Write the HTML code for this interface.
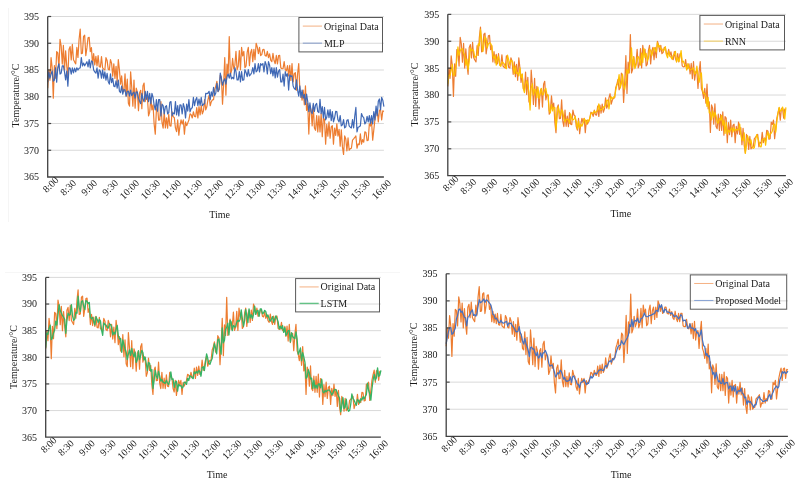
<!DOCTYPE html>
<html><head><meta charset="utf-8"><style>
html,body{margin:0;padding:0;background:#fff;}
svg{display:block;filter:blur(0.5px);}
text{font-family:"Liberation Serif", serif;font-size:10px;fill:#1a1a1a;}
</style></head><body>
<svg width="805" height="492" viewBox="0 0 805 492">
<rect x="0" y="0" width="805" height="492" fill="#fff"/>
<line x1="8.5" y1="8" x2="8.5" y2="222" stroke="#f5f5f5" stroke-width="1"/>
<line x1="5" y1="272.5" x2="400" y2="272.5" stroke="#f6f6f6" stroke-width="1"/>
<line x1="51.20" y1="150.25" x2="383.90" y2="150.25" stroke="#d9d9d9" stroke-width="1"/>
<line x1="51.20" y1="123.50" x2="383.90" y2="123.50" stroke="#d9d9d9" stroke-width="1"/>
<line x1="51.20" y1="96.75" x2="383.90" y2="96.75" stroke="#d9d9d9" stroke-width="1"/>
<line x1="51.20" y1="70.00" x2="383.90" y2="70.00" stroke="#d9d9d9" stroke-width="1"/>
<line x1="51.20" y1="43.25" x2="383.90" y2="43.25" stroke="#d9d9d9" stroke-width="1"/>
<line x1="51.20" y1="16.50" x2="383.90" y2="16.50" stroke="#d9d9d9" stroke-width="1"/>
<text x="39.10" y="180.40" text-anchor="end">365</text>
<text x="39.10" y="153.65" text-anchor="end">370</text>
<text x="39.10" y="126.90" text-anchor="end">375</text>
<text x="39.10" y="100.15" text-anchor="end">380</text>
<text x="39.10" y="73.40" text-anchor="end">385</text>
<text x="39.10" y="46.65" text-anchor="end">390</text>
<text x="39.10" y="19.90" text-anchor="end">395</text>
<polyline fill="none" stroke="#ed7d31" stroke-width="1.2" stroke-linejoin="round" points="47.70,88.14 48.82,69.86 49.94,80.14 51.06,57.66 52.18,67.76 53.30,98.14 54.42,65.62 55.54,78.14 56.67,51.56 57.79,52.88 58.91,67.94 60.03,39.36 61.15,45.75 62.27,64.06 63.39,45.46 64.51,69.94 65.63,50.89 66.75,66.13 67.87,76.14 68.99,49.56 70.11,46.62 71.23,59.84 72.35,44.46 73.48,59.67 74.60,61.84 75.72,63.84 76.84,47.46 77.96,57.38 79.08,39.23 80.20,29.06 81.32,53.74 82.44,53.12 83.56,36.34 84.68,35.26 85.80,55.74 86.92,47.89 88.04,37.84 89.16,37.36 90.29,51.64 91.41,47.65 92.53,63.84 93.65,53.56 94.77,64.84 95.89,56.34 97.01,65.84 98.13,55.66 99.25,66.80 100.37,67.15 101.49,56.66 102.61,67.94 103.73,69.12 104.85,69.94 105.97,57.66 107.10,60.42 108.22,69.17 109.34,69.94 110.46,59.66 111.58,63.20 112.70,76.14 113.82,63.76 114.94,78.41 116.06,66.34 117.18,82.14 118.30,59.66 119.42,69.86 120.54,84.17 121.66,75.96 122.78,90.14 123.91,91.61 125.03,73.86 126.15,96.14 127.27,79.17 128.39,103.24 129.51,106.14 130.63,71.86 131.75,87.23 132.87,106.23 133.99,80.06 135.11,108.14 136.23,88.16 137.35,92.06 138.47,110.64 139.59,92.72 140.72,90.36 141.84,108.74 142.96,86.03 144.08,83.06 145.20,101.64 146.32,96.14 147.44,97.46 148.56,115.84 149.68,112.16 150.80,97.46 151.92,109.84 153.04,104.89 154.16,124.23 155.28,134.14 156.40,109.66 157.53,106.55 158.65,120.17 159.77,119.94 160.89,101.56 162.01,122.48 163.13,128.14 164.25,111.76 165.37,127.86 166.49,117.76 167.61,128.14 168.73,114.27 169.85,125.79 170.97,126.14 172.09,111.76 173.21,116.63 174.34,117.76 175.46,128.14 176.58,131.62 177.70,119.86 178.82,135.14 179.94,126.03 181.06,119.88 182.18,124.04 183.30,119.86 184.42,134.14 185.54,121.86 186.66,125.68 187.78,122.88 188.90,119.94 190.02,113.76 191.15,114.75 192.27,117.94 193.39,111.76 194.51,116.43 195.63,116.79 196.75,107.66 197.87,117.94 198.99,106.66 200.11,114.84 201.23,105.66 202.35,113.84 203.47,110.78 204.59,99.56 205.71,109.84 206.83,106.77 207.96,99.63 209.08,95.46 210.20,105.74 211.32,101.70 212.44,99.82 213.56,99.64 214.68,89.36 215.80,86.07 216.92,81.26 218.04,91.54 219.16,89.14 220.28,75.06 221.40,77.06 222.52,104.14 223.64,84.14 224.77,57.56 225.89,95.14 227.01,64.06 228.13,74.84 229.25,36.56 230.37,74.84 231.49,71.14 232.61,58.46 233.73,68.90 234.85,65.42 235.97,51.36 237.09,69.74 238.21,66.29 239.33,50.51 240.45,69.74 241.58,47.36 242.70,55.94 243.82,51.36 244.94,67.74 246.06,66.02 247.18,52.48 248.30,47.36 249.42,65.74 250.54,52.88 251.66,49.40 252.78,61.64 253.90,49.36 255.02,59.64 256.14,43.26 257.26,46.82 258.39,53.58 259.51,47.36 260.63,55.54 261.75,54.61 262.87,49.49 263.99,49.36 265.11,55.54 266.23,56.22 267.35,51.36 268.47,57.64 269.59,53.82 270.71,60.06 271.83,61.64 272.95,53.46 274.07,60.56 275.20,63.74 276.32,55.46 277.44,63.80 278.56,55.66 279.68,55.46 280.80,67.74 281.92,68.73 283.04,68.59 284.16,61.56 285.28,69.74 286.40,70.76 287.52,65.66 288.64,75.84 289.76,65.36 290.88,80.44 292.01,63.56 293.13,81.94 294.25,73.65 295.37,72.67 296.49,90.14 297.61,73.76 298.73,63.56 299.85,90.14 300.97,93.63 302.09,100.14 303.21,90.06 304.33,104.78 305.45,85.96 306.57,110.44 307.69,103.46 308.82,134.04 309.94,106.52 311.06,109.88 312.18,125.84 313.30,105.46 314.42,128.04 315.54,130.33 316.66,115.66 317.78,131.94 318.90,115.90 320.02,131.94 321.14,113.56 322.26,136.66 323.38,118.10 324.50,119.66 325.63,144.14 326.75,124.27 327.87,136.27 328.99,121.76 330.11,138.14 331.23,126.99 332.35,125.76 333.47,144.14 334.59,128.03 335.71,135.37 336.83,123.76 337.95,136.04 339.07,129.26 340.19,146.14 341.31,129.86 342.44,146.90 343.56,154.34 344.68,135.96 345.80,139.00 346.92,150.82 348.04,137.96 349.16,150.24 350.28,148.60 351.40,148.24 352.52,140.06 353.64,138.92 354.76,137.49 355.88,135.96 357.00,148.24 358.12,143.90 359.25,144.70 360.37,133.86 361.49,144.14 362.61,139.65 363.73,142.14 364.85,131.86 365.97,132.48 367.09,140.63 368.21,140.14 369.33,123.76 370.45,126.01 371.57,121.76 372.69,140.14 373.81,129.94 374.93,119.66 376.06,114.18 377.18,109.56 378.30,121.84 379.42,110.52 380.54,109.56 381.66,119.84 382.78,110.82 383.90,111.48"/>
<polyline fill="none" stroke="#3f68b5" stroke-width="1.2" stroke-linejoin="round" points="47.70,82.14 48.82,71.86 49.94,78.14 51.06,74.06 52.18,71.06 53.30,81.14 54.42,80.03 55.54,67.76 56.67,82.14 57.79,67.37 58.91,63.76 60.03,74.04 61.15,73.05 62.27,65.82 63.39,65.76 64.51,71.94 65.63,79.86 66.75,71.03 67.87,86.14 68.99,67.76 70.11,68.08 71.23,74.04 72.35,67.76 73.48,72.83 74.60,68.15 75.72,71.94 76.84,67.76 77.96,70.06 79.08,68.24 80.20,67.94 81.32,57.66 82.44,65.97 83.56,63.01 84.68,65.84 85.80,63.76 86.92,61.73 88.04,66.88 89.16,59.66 90.29,67.94 91.41,60.96 92.53,61.76 93.65,69.94 94.77,71.84 95.89,73.21 97.01,67.76 98.13,78.14 99.25,69.87 100.37,71.20 101.49,78.14 102.61,69.86 103.73,78.28 104.85,71.86 105.97,80.14 107.10,73.28 108.22,81.44 109.34,84.14 110.46,73.86 111.58,82.64 112.70,78.06 113.82,86.14 114.94,86.73 116.06,80.74 117.18,88.14 118.30,80.06 119.42,91.11 120.54,92.69 121.66,86.06 122.78,94.14 123.91,89.43 125.03,90.06 126.15,96.14 127.27,91.49 128.39,91.16 129.51,96.14 130.63,90.06 131.75,95.52 132.87,93.15 133.99,92.06 135.11,98.14 136.23,91.91 137.35,92.06 138.47,98.14 139.59,101.20 140.72,103.74 141.84,93.46 142.96,99.12 144.08,101.64 145.20,91.36 146.32,99.37 147.44,91.36 148.56,101.64 149.68,93.35 150.80,103.74 151.92,93.46 153.04,97.26 154.16,105.08 155.28,109.84 156.40,99.56 157.53,111.15 158.65,99.65 159.77,99.56 160.89,115.84 162.01,104.16 163.13,105.66 164.25,113.84 165.37,106.62 166.49,105.66 167.61,113.84 168.73,112.90 169.85,102.26 170.97,101.56 172.09,115.84 173.21,112.99 174.34,113.84 175.46,101.56 176.58,114.95 177.70,105.66 178.82,115.84 179.94,104.82 181.06,104.99 182.18,113.84 183.30,103.56 184.42,107.66 185.54,117.94 186.66,104.05 187.78,111.03 188.90,99.56 190.02,111.84 191.15,108.54 192.27,107.74 193.39,97.46 194.51,105.69 195.63,99.91 196.75,97.46 197.87,105.74 198.99,99.09 200.11,105.30 201.23,97.46 202.35,105.74 203.47,104.15 204.59,103.74 205.71,93.46 206.83,93.61 207.96,93.13 209.08,91.36 210.20,99.64 211.32,91.87 212.44,96.25 213.56,87.36 214.68,95.54 215.80,92.99 216.92,83.26 218.04,91.54 219.16,89.14 220.28,73.06 221.40,78.57 222.52,85.14 223.64,81.06 224.77,78.73 225.89,84.14 227.01,76.76 228.13,74.07 229.25,78.14 230.37,73.06 231.49,78.80 232.61,77.33 233.73,78.87 234.85,67.66 235.97,71.66 237.09,79.94 238.21,79.92 239.33,71.57 240.45,81.94 241.58,71.66 242.70,80.29 243.82,79.94 244.94,69.66 246.06,72.41 247.18,76.70 248.30,69.66 249.42,75.84 250.54,74.60 251.66,72.70 252.78,67.66 253.90,73.84 255.02,63.56 256.14,71.84 257.26,70.69 258.39,63.63 259.51,71.84 260.63,63.56 261.75,65.08 262.87,63.55 263.99,71.84 265.11,61.56 266.23,64.72 267.35,73.84 268.47,61.56 269.59,65.29 270.71,73.58 271.83,67.66 272.95,75.84 274.07,67.87 275.20,77.94 276.32,67.66 277.44,77.11 278.56,71.12 279.68,69.66 280.80,81.94 281.92,81.91 283.04,74.03 284.16,86.04 285.28,71.66 286.40,76.13 287.52,73.76 288.64,90.04 289.76,74.88 290.88,76.50 292.01,75.76 293.13,86.04 294.25,88.41 295.37,89.65 296.49,79.86 297.61,90.14 298.73,96.14 299.85,85.96 300.97,97.34 302.09,90.06 303.21,98.14 304.33,94.42 305.45,104.34 306.57,94.06 307.69,101.36 308.82,111.64 309.94,102.97 311.06,111.44 312.18,113.74 313.30,103.46 314.42,111.43 315.54,104.77 316.66,103.46 317.78,111.64 318.90,112.54 320.02,99.36 321.14,113.74 322.26,106.51 323.38,118.01 324.50,107.46 325.63,119.84 326.75,117.25 327.87,109.88 328.99,117.74 330.11,109.56 331.23,120.66 332.35,111.56 333.47,121.84 334.59,117.98 335.71,111.41 336.83,111.56 337.95,119.84 339.07,121.92 340.19,115.66 341.31,125.84 342.44,124.91 343.56,119.66 344.68,127.94 345.80,126.85 346.92,120.35 348.04,119.66 349.16,125.84 350.28,127.18 351.40,127.94 352.52,119.66 353.64,127.99 354.76,116.07 355.88,107.46 357.00,131.94 358.12,127.21 359.25,126.73 360.37,125.84 361.49,113.56 362.61,116.43 363.73,117.66 364.85,123.84 365.97,122.14 367.09,116.28 368.21,121.84 369.33,115.66 370.45,123.54 371.57,115.66 372.69,123.84 373.81,111.56 374.93,119.84 376.06,106.08 377.18,115.74 378.30,101.36 379.42,98.98 380.54,109.64 381.66,97.36 382.78,100.21 383.90,106.69"/>
<polyline fill="none" stroke="#404040" stroke-width="1.3" points="47.70,16.50 47.70,177.00 383.90,177.00"/>
<line x1="47.70" y1="150.25" x2="51.20" y2="150.25" stroke="#404040" stroke-width="1.2"/>
<line x1="47.70" y1="123.50" x2="51.20" y2="123.50" stroke="#404040" stroke-width="1.2"/>
<line x1="47.70" y1="96.75" x2="51.20" y2="96.75" stroke="#404040" stroke-width="1.2"/>
<line x1="47.70" y1="70.00" x2="51.20" y2="70.00" stroke="#404040" stroke-width="1.2"/>
<line x1="47.70" y1="43.25" x2="51.20" y2="43.25" stroke="#404040" stroke-width="1.2"/>
<line x1="47.70" y1="16.50" x2="51.20" y2="16.50" stroke="#404040" stroke-width="1.2"/>
<text transform="translate(59.20,180.80) rotate(-45)" text-anchor="end">8:00</text>
<text transform="translate(76.71,183.80) rotate(-45)" text-anchor="end">8:30</text>
<text transform="translate(97.72,183.80) rotate(-45)" text-anchor="end">9:00</text>
<text transform="translate(118.74,183.80) rotate(-45)" text-anchor="end">9:30</text>
<text transform="translate(139.75,183.80) rotate(-45)" text-anchor="end">10:00</text>
<text transform="translate(160.76,183.80) rotate(-45)" text-anchor="end">10:30</text>
<text transform="translate(181.77,183.80) rotate(-45)" text-anchor="end">11:00</text>
<text transform="translate(202.79,183.80) rotate(-45)" text-anchor="end">11:30</text>
<text transform="translate(223.80,183.80) rotate(-45)" text-anchor="end">12:00</text>
<text transform="translate(244.81,183.80) rotate(-45)" text-anchor="end">12:30</text>
<text transform="translate(265.82,183.80) rotate(-45)" text-anchor="end">13:00</text>
<text transform="translate(286.84,183.80) rotate(-45)" text-anchor="end">13:30</text>
<text transform="translate(307.85,183.80) rotate(-45)" text-anchor="end">14:00</text>
<text transform="translate(328.86,183.80) rotate(-45)" text-anchor="end">14:30</text>
<text transform="translate(349.88,183.80) rotate(-45)" text-anchor="end">15:00</text>
<text transform="translate(370.89,183.80) rotate(-45)" text-anchor="end">15:30</text>
<text transform="translate(391.90,183.80) rotate(-45)" text-anchor="end">16:00</text>
<rect x="298.90" y="17.50" width="83.60" height="34.40" fill="none" stroke="#595959" stroke-width="1"/>
<line x1="302.80" y1="26.10" x2="322.00" y2="26.10" stroke="#ed7d31" stroke-width="1" stroke-opacity="0.6"/>
<line x1="302.80" y1="43.13" x2="322.00" y2="43.13" stroke="#3f68b5" stroke-width="1" stroke-opacity="0.6"/>
<text x="323.90" y="29.60">Original Data</text>
<text x="323.90" y="46.63">MLP</text>
<text transform="translate(18.80,95.50) rotate(-90)" text-anchor="middle">Temperature/°C</text>
<text x="219.60" y="218.00" text-anchor="middle">Time</text>
<line x1="451.30" y1="148.81" x2="785.90" y2="148.81" stroke="#d9d9d9" stroke-width="1"/>
<line x1="451.30" y1="121.92" x2="785.90" y2="121.92" stroke="#d9d9d9" stroke-width="1"/>
<line x1="451.30" y1="95.02" x2="785.90" y2="95.02" stroke="#d9d9d9" stroke-width="1"/>
<line x1="451.30" y1="68.13" x2="785.90" y2="68.13" stroke="#d9d9d9" stroke-width="1"/>
<line x1="451.30" y1="41.24" x2="785.90" y2="41.24" stroke="#d9d9d9" stroke-width="1"/>
<line x1="451.30" y1="14.35" x2="785.90" y2="14.35" stroke="#d9d9d9" stroke-width="1"/>
<text x="439.20" y="179.10" text-anchor="end">365</text>
<text x="439.20" y="152.21" text-anchor="end">370</text>
<text x="439.20" y="125.32" text-anchor="end">375</text>
<text x="439.20" y="98.42" text-anchor="end">380</text>
<text x="439.20" y="71.53" text-anchor="end">385</text>
<text x="439.20" y="44.64" text-anchor="end">390</text>
<text x="439.20" y="17.75" text-anchor="end">395</text>
<polyline fill="none" stroke="#ed7d31" stroke-width="1.2" stroke-linejoin="round" points="447.80,86.37 448.93,68.00 450.05,78.32 451.18,55.73 452.31,65.88 453.44,96.42 454.56,63.73 455.69,76.31 456.82,49.60 457.94,50.93 459.07,66.06 460.20,37.33 461.32,43.76 462.45,62.17 463.58,43.47 464.70,68.07 465.83,48.92 466.96,64.24 468.09,74.30 469.21,47.59 470.34,44.63 471.47,57.92 472.59,42.46 473.72,57.75 474.85,59.93 475.98,61.94 477.10,45.48 478.23,55.45 479.36,37.20 480.48,26.98 481.61,51.78 482.74,51.17 483.86,34.29 484.99,33.21 486.12,53.79 487.25,45.90 488.37,35.80 489.50,35.32 490.63,49.67 491.75,45.66 492.88,61.94 494.01,51.61 495.13,62.95 496.26,54.40 497.39,63.95 498.51,53.72 499.64,64.91 500.77,65.27 501.90,54.73 503.02,66.06 504.15,67.25 505.28,68.07 506.40,55.73 507.53,58.51 508.66,67.30 509.79,68.07 510.91,57.74 512.04,61.30 513.17,74.30 514.29,61.86 515.42,76.59 516.55,64.45 517.67,80.33 518.80,57.74 519.93,67.99 521.06,82.37 522.18,74.13 523.31,88.38 524.44,89.85 525.56,72.02 526.69,94.41 527.82,77.35 528.94,101.54 530.07,104.46 531.20,70.01 532.33,85.46 533.45,104.56 534.58,78.25 535.71,106.47 536.83,86.39 537.96,90.31 539.09,108.99 540.21,90.97 541.34,88.60 542.47,107.08 543.60,84.25 544.72,81.27 545.85,99.94 546.98,94.41 548.10,95.74 549.23,114.21 550.36,110.52 551.48,95.74 552.61,108.18 553.74,103.21 554.87,122.66 555.99,132.61 557.12,108.01 558.25,104.88 559.37,118.57 560.50,118.33 561.63,99.86 562.75,120.89 563.88,126.58 565.01,110.12 566.13,126.30 567.26,116.15 568.39,126.58 569.52,112.64 570.64,124.22 571.77,124.57 572.90,110.12 574.02,115.01 575.15,116.15 576.28,126.58 577.40,130.08 578.53,118.26 579.66,133.62 580.79,124.46 581.91,118.27 583.04,122.46 584.17,118.26 585.29,132.61 586.42,120.27 587.55,124.11 588.67,121.29 589.80,118.33 590.93,112.13 592.06,113.12 593.18,116.32 594.31,110.12 595.44,114.80 596.56,115.17 597.69,106.00 598.82,116.32 599.94,104.99 601.07,113.21 602.20,103.99 603.33,112.20 604.45,109.13 605.58,97.85 606.71,108.18 607.83,105.10 608.96,97.92 610.09,93.73 611.22,104.06 612.34,100.00 613.47,98.11 614.60,97.93 615.72,87.60 616.85,84.29 617.98,79.46 619.10,89.78 620.23,87.37 621.36,73.22 622.49,75.23 623.61,102.45 624.74,82.35 625.87,55.63 626.99,93.40 628.12,62.16 629.25,73.00 630.37,34.52 631.50,73.00 632.63,69.28 633.75,56.54 634.88,67.03 636.01,63.52 637.14,49.40 638.26,67.87 639.39,64.40 640.52,48.54 641.64,67.87 642.77,45.38 643.90,53.99 645.02,49.40 646.15,65.86 647.28,64.14 648.41,50.52 649.53,45.38 650.66,63.85 651.79,50.92 652.91,47.43 654.04,59.73 655.17,47.39 656.29,57.72 657.42,41.25 658.55,44.83 659.68,51.63 660.80,45.38 661.93,53.59 663.06,52.66 664.18,47.52 665.31,47.39 666.44,53.59 667.57,54.28 668.69,49.40 669.82,55.70 670.95,51.87 672.07,58.14 673.20,59.73 674.33,51.51 675.45,58.64 676.58,61.84 677.71,53.52 678.84,61.90 679.96,53.72 681.09,53.52 682.22,65.86 683.34,66.86 684.47,66.71 685.60,59.65 686.72,67.87 687.85,68.90 688.98,63.77 690.11,74.00 691.23,63.47 692.36,78.63 693.49,61.66 694.61,80.13 695.74,71.80 696.87,70.82 697.99,88.38 699.12,71.92 700.25,61.66 701.38,88.38 702.50,91.89 703.63,98.43 704.76,88.30 705.88,103.10 707.01,84.18 708.14,108.78 709.26,101.77 710.39,132.51 711.52,104.85 712.64,108.23 713.77,124.27 714.90,103.78 716.03,126.48 717.15,128.78 718.28,114.04 719.41,130.40 720.53,114.27 721.66,130.40 722.79,111.93 723.91,135.15 725.04,116.49 726.17,118.06 727.30,142.66 728.42,122.69 729.55,134.76 730.68,120.17 731.80,136.63 732.93,125.43 734.06,124.19 735.18,142.66 736.31,126.47 737.44,133.85 738.57,122.18 739.69,134.52 740.82,127.71 741.95,144.67 743.07,128.31 744.20,145.44 745.33,152.92 746.45,134.45 747.58,137.50 748.71,149.39 749.84,136.46 750.96,148.80 752.09,147.15 753.22,146.78 754.34,138.57 755.47,137.42 756.60,135.98 757.72,134.45 758.85,146.78 759.98,142.43 761.11,143.23 762.23,132.33 763.36,142.66 764.49,138.15 765.61,140.65 766.74,130.32 767.87,130.94 768.99,139.14 770.12,138.64 771.25,122.18 772.38,124.44 773.50,120.17 774.63,138.64 775.76,128.39 776.88,118.06 778.01,112.55 779.14,107.91 780.26,120.24 781.39,108.87 782.52,107.91 783.65,118.23 784.77,109.17 785.90,109.84"/>
<polyline fill="none" stroke="#ffc000" stroke-width="1.2" stroke-linejoin="round" points="447.80,84.27 448.93,75.28 450.05,75.44 451.18,70.28 452.31,64.31 453.44,75.73 454.56,74.61 455.69,67.86 456.82,60.06 457.94,46.83 459.07,55.34 460.20,50.95 461.32,48.74 462.45,48.79 463.58,52.64 464.70,55.27 465.83,65.27 466.96,59.17 468.09,69.83 469.21,61.38 470.34,47.94 471.47,50.78 472.59,49.63 473.72,51.19 474.85,57.61 475.98,56.29 477.10,55.03 478.23,43.76 479.36,45.70 480.48,29.69 481.61,38.80 482.74,51.55 483.86,45.64 484.99,36.75 486.12,38.43 487.25,47.90 488.37,44.15 489.50,42.66 490.63,43.55 491.75,45.81 492.88,55.73 494.01,58.63 495.13,55.20 496.26,65.17 497.39,58.57 498.51,56.23 499.64,64.82 500.77,66.33 501.90,62.01 503.02,62.59 504.15,63.76 505.28,66.89 506.40,68.64 507.53,55.10 508.66,59.71 509.79,64.37 510.91,60.14 512.04,60.85 513.17,65.92 514.29,73.76 515.42,66.00 516.55,73.47 517.67,72.58 518.80,76.01 519.93,67.87 521.06,77.76 522.18,74.09 523.31,88.65 524.44,92.66 525.56,83.86 526.69,80.53 527.82,84.51 528.94,92.23 530.07,110.07 531.20,88.14 532.33,83.72 533.45,94.91 534.58,89.12 535.71,89.91 536.83,97.69 537.96,87.12 539.09,98.31 540.21,93.94 541.34,88.45 542.47,94.81 543.60,94.21 544.72,90.02 545.85,88.29 546.98,95.03 548.10,94.94 549.23,110.72 550.36,112.92 551.48,104.57 552.61,110.95 553.74,107.38 554.87,107.54 555.99,129.56 557.12,117.24 558.25,106.54 559.37,111.55 560.50,116.18 561.63,109.81 562.75,111.18 563.88,118.35 565.01,122.13 566.13,119.35 567.26,119.01 568.39,120.06 569.52,123.42 570.64,113.94 571.77,118.85 572.90,120.04 574.02,119.13 575.15,116.38 576.28,121.60 577.40,128.94 578.53,121.13 579.66,127.96 580.79,124.39 581.91,126.31 583.04,123.28 584.17,118.69 585.29,120.14 586.42,124.10 587.55,119.92 588.67,121.67 589.80,118.11 590.93,113.58 592.06,112.93 593.18,113.14 594.31,111.04 595.44,112.50 596.56,111.54 597.69,109.62 598.82,103.86 599.94,110.35 601.07,109.35 602.20,109.81 603.33,106.71 604.45,107.47 605.58,104.62 606.71,100.43 607.83,100.02 608.96,108.94 610.09,100.54 611.22,96.78 612.34,98.98 613.47,96.77 614.60,97.34 615.72,90.32 616.85,85.16 617.98,82.86 619.10,74.61 620.23,87.93 621.36,83.73 622.49,74.05 623.61,86.09 624.74,89.54 625.87,80.93 626.99,69.63 628.12,73.27 629.25,68.93 630.37,59.54 631.50,47.74 632.63,67.25 633.75,57.12 634.88,68.67 636.01,65.47 637.14,57.81 638.26,56.61 639.39,60.10 640.52,65.08 641.64,53.15 642.77,62.54 643.90,48.31 645.02,57.62 646.15,53.43 647.28,61.10 648.41,58.33 649.53,49.16 650.66,50.35 651.79,55.81 652.91,51.02 654.04,47.58 655.17,49.41 656.29,52.13 657.42,42.58 658.55,46.89 659.68,45.61 660.80,49.01 661.93,48.76 663.06,51.14 664.18,50.13 665.31,46.60 666.44,54.86 667.57,57.79 668.69,51.36 669.82,56.17 670.95,57.11 672.07,59.15 673.20,55.48 674.33,54.09 675.45,51.40 676.58,61.86 677.71,57.66 678.84,61.54 679.96,57.12 681.09,50.60 682.22,62.05 683.34,61.20 684.47,64.40 685.60,65.47 686.72,70.11 687.85,63.50 688.98,68.19 690.11,69.88 691.23,69.51 692.36,68.71 693.49,67.83 694.61,73.96 695.74,73.61 696.87,66.03 697.99,75.04 699.12,82.34 700.25,74.61 701.38,72.89 702.50,89.74 703.63,93.68 704.76,93.47 705.88,96.40 707.01,106.49 708.14,97.47 709.26,112.88 710.39,112.13 711.52,119.97 712.64,110.89 713.77,117.28 714.90,112.28 716.03,115.69 717.15,122.47 718.28,123.14 719.41,118.41 720.53,120.05 721.66,115.34 722.79,125.15 723.91,120.04 725.04,133.34 726.17,122.39 727.30,134.12 728.42,130.15 729.55,132.00 730.68,129.50 731.80,127.87 732.93,132.07 734.06,127.62 735.18,130.75 736.31,129.48 737.44,129.61 738.57,129.81 739.69,123.97 740.82,134.09 741.95,139.94 743.07,140.65 744.20,132.90 745.33,153.46 746.45,145.76 747.58,135.67 748.71,140.34 749.84,143.51 750.96,139.72 752.09,146.72 753.22,148.49 754.34,147.55 755.47,140.44 756.60,134.49 757.72,137.69 758.85,141.54 759.98,146.61 761.11,146.88 762.23,140.05 763.36,139.24 764.49,138.20 765.61,145.28 766.74,136.12 767.87,131.81 768.99,138.65 770.12,133.48 771.25,133.15 772.38,130.94 773.50,124.77 774.63,124.10 775.76,132.30 776.88,120.98 778.01,113.54 779.14,107.44 780.26,111.29 781.39,110.43 782.52,107.00 783.65,111.08 784.77,119.26 785.90,107.38"/>
<polyline fill="none" stroke="#404040" stroke-width="1.3" points="447.80,14.35 447.80,175.70 785.90,175.70"/>
<line x1="447.80" y1="148.81" x2="451.30" y2="148.81" stroke="#404040" stroke-width="1.2"/>
<line x1="447.80" y1="121.92" x2="451.30" y2="121.92" stroke="#404040" stroke-width="1.2"/>
<line x1="447.80" y1="95.02" x2="451.30" y2="95.02" stroke="#404040" stroke-width="1.2"/>
<line x1="447.80" y1="68.13" x2="451.30" y2="68.13" stroke="#404040" stroke-width="1.2"/>
<line x1="447.80" y1="41.24" x2="451.30" y2="41.24" stroke="#404040" stroke-width="1.2"/>
<line x1="447.80" y1="14.35" x2="451.30" y2="14.35" stroke="#404040" stroke-width="1.2"/>
<text transform="translate(459.30,179.50) rotate(-45)" text-anchor="end">8:00</text>
<text transform="translate(476.93,182.50) rotate(-45)" text-anchor="end">8:30</text>
<text transform="translate(498.06,182.50) rotate(-45)" text-anchor="end">9:00</text>
<text transform="translate(519.19,182.50) rotate(-45)" text-anchor="end">9:30</text>
<text transform="translate(540.33,182.50) rotate(-45)" text-anchor="end">10:00</text>
<text transform="translate(561.46,182.50) rotate(-45)" text-anchor="end">10:30</text>
<text transform="translate(582.59,182.50) rotate(-45)" text-anchor="end">11:00</text>
<text transform="translate(603.72,182.50) rotate(-45)" text-anchor="end">11:30</text>
<text transform="translate(624.85,182.50) rotate(-45)" text-anchor="end">12:00</text>
<text transform="translate(645.98,182.50) rotate(-45)" text-anchor="end">12:30</text>
<text transform="translate(667.11,182.50) rotate(-45)" text-anchor="end">13:00</text>
<text transform="translate(688.24,182.50) rotate(-45)" text-anchor="end">13:30</text>
<text transform="translate(709.38,182.50) rotate(-45)" text-anchor="end">14:00</text>
<text transform="translate(730.51,182.50) rotate(-45)" text-anchor="end">14:30</text>
<text transform="translate(751.64,182.50) rotate(-45)" text-anchor="end">15:00</text>
<text transform="translate(772.77,182.50) rotate(-45)" text-anchor="end">15:30</text>
<text transform="translate(793.90,182.50) rotate(-45)" text-anchor="end">16:00</text>
<rect x="699.90" y="15.40" width="84.60" height="34.50" fill="none" stroke="#595959" stroke-width="1"/>
<line x1="703.80" y1="24.02" x2="723.00" y2="24.02" stroke="#ed7d31" stroke-width="1" stroke-opacity="0.6"/>
<line x1="703.80" y1="41.10" x2="723.00" y2="41.10" stroke="#ffc000" stroke-width="1" stroke-opacity="0.6"/>
<text x="724.90" y="27.52">Original Data</text>
<text x="724.90" y="44.60">RNN</text>
<text transform="translate(418.30,94.60) rotate(-90)" text-anchor="middle">Temperature/°C</text>
<text x="620.80" y="217.00" text-anchor="middle">Time</text>
<line x1="49.20" y1="410.57" x2="380.90" y2="410.57" stroke="#d9d9d9" stroke-width="1"/>
<line x1="49.20" y1="383.93" x2="380.90" y2="383.93" stroke="#d9d9d9" stroke-width="1"/>
<line x1="49.20" y1="357.30" x2="380.90" y2="357.30" stroke="#d9d9d9" stroke-width="1"/>
<line x1="49.20" y1="330.67" x2="380.90" y2="330.67" stroke="#d9d9d9" stroke-width="1"/>
<line x1="49.20" y1="304.03" x2="380.90" y2="304.03" stroke="#d9d9d9" stroke-width="1"/>
<line x1="49.20" y1="277.40" x2="380.90" y2="277.40" stroke="#d9d9d9" stroke-width="1"/>
<text x="37.10" y="440.60" text-anchor="end">365</text>
<text x="37.10" y="413.97" text-anchor="end">370</text>
<text x="37.10" y="387.33" text-anchor="end">375</text>
<text x="37.10" y="360.70" text-anchor="end">380</text>
<text x="37.10" y="334.07" text-anchor="end">385</text>
<text x="37.10" y="307.43" text-anchor="end">390</text>
<text x="37.10" y="280.80" text-anchor="end">395</text>
<polyline fill="none" stroke="#ed7d31" stroke-width="1.2" stroke-linejoin="round" points="45.70,348.72 46.82,330.53 47.93,340.76 49.05,318.38 50.17,328.44 51.29,358.68 52.40,326.31 53.52,338.77 54.64,312.31 55.76,313.62 56.87,328.61 57.99,300.16 59.11,306.52 60.23,324.76 61.34,306.24 62.46,330.60 63.58,311.64 64.69,326.81 65.81,336.78 66.93,310.32 68.05,307.39 69.16,320.55 70.28,305.24 71.40,320.38 72.52,322.54 73.63,324.53 74.75,308.23 75.87,318.10 76.99,300.03 78.10,289.91 79.22,314.47 80.34,313.86 81.45,297.15 82.57,296.08 83.69,316.47 84.81,308.65 85.92,298.65 87.04,298.17 88.16,312.38 89.28,308.41 90.39,324.53 91.51,314.30 92.63,325.53 93.75,317.07 94.86,326.52 95.98,316.39 97.10,327.48 98.21,327.83 99.33,317.39 100.45,328.61 101.57,329.79 102.68,330.60 103.80,318.38 104.92,321.13 106.04,329.84 107.15,330.60 108.27,320.37 109.39,323.90 110.51,336.78 111.62,324.46 112.74,339.04 113.86,327.02 114.97,342.75 116.09,320.37 117.21,330.53 118.33,344.77 119.44,336.60 120.56,350.72 121.68,352.18 122.80,334.51 123.91,356.69 125.03,339.79 126.15,363.76 127.27,366.65 128.38,332.52 129.50,347.82 130.62,366.74 131.73,340.69 132.85,368.64 133.97,348.75 135.09,352.63 136.20,371.13 137.32,353.29 138.44,350.94 139.56,369.23 140.67,346.63 141.79,343.67 142.91,362.17 144.03,356.70 145.14,358.01 146.26,376.30 147.38,372.65 148.49,358.01 149.61,370.33 150.73,365.41 151.85,384.66 152.96,394.52 154.08,370.16 155.20,367.06 156.32,380.62 157.43,380.39 158.55,362.09 159.67,382.91 160.79,388.55 161.90,372.25 163.02,388.28 164.14,378.22 165.25,388.55 166.37,374.74 167.49,386.22 168.61,386.56 169.72,372.25 170.84,377.09 171.96,378.22 173.08,388.55 174.19,392.02 175.31,380.31 176.43,395.52 177.55,386.46 178.66,380.33 179.78,384.47 180.90,380.31 182.01,394.52 183.13,382.30 184.25,386.11 185.37,383.31 186.48,380.39 187.60,374.24 188.72,375.22 189.84,378.39 190.95,372.25 192.07,376.89 193.19,377.25 194.31,368.17 195.42,378.39 196.54,367.17 197.66,375.31 198.77,366.17 199.89,374.31 201.01,371.27 202.13,360.10 203.24,370.33 204.36,367.28 205.48,360.16 206.60,356.02 207.71,366.25 208.83,362.22 209.95,360.36 211.07,360.17 212.18,349.95 213.30,346.67 214.42,341.88 215.53,352.11 216.65,349.72 217.77,335.71 218.89,337.70 220.00,364.65 221.12,344.74 222.24,318.28 223.36,355.69 224.47,324.76 225.59,335.48 226.71,297.38 227.83,335.48 228.94,331.80 230.06,319.18 231.18,329.57 232.29,326.10 233.41,312.11 234.53,330.40 235.65,326.97 236.76,311.26 237.88,330.40 239.00,308.13 240.12,316.66 241.23,312.11 242.35,328.41 243.47,326.71 244.59,313.22 245.70,308.13 246.82,326.42 247.94,313.62 249.05,310.16 250.17,322.34 251.29,310.12 252.41,320.35 253.52,304.05 254.64,307.59 255.76,314.32 256.88,308.13 257.99,316.27 259.11,315.34 260.23,310.25 261.35,310.12 262.46,316.27 263.58,316.95 264.70,312.11 265.81,318.36 266.93,314.56 268.05,320.77 269.17,322.34 270.28,314.20 271.40,321.26 272.52,324.43 273.64,316.19 274.75,324.50 275.87,316.39 276.99,316.19 278.11,328.41 279.22,329.40 280.34,329.26 281.46,322.27 282.57,330.40 283.69,331.43 284.81,326.35 285.93,336.48 287.04,326.05 288.16,341.06 289.28,324.26 290.40,342.55 291.51,334.30 292.63,333.33 293.75,350.72 294.87,334.41 295.98,324.26 297.10,350.72 298.22,354.20 299.33,360.67 300.45,350.64 301.57,365.30 302.69,346.56 303.80,370.93 304.92,363.98 306.04,394.42 307.16,367.03 308.27,370.38 309.39,386.26 310.51,365.97 311.63,388.45 312.74,390.73 313.86,376.13 314.98,392.33 316.09,376.36 317.21,392.33 318.33,374.04 319.45,397.04 320.56,378.56 321.68,380.11 322.80,404.48 323.92,384.70 325.03,396.65 326.15,382.20 327.27,398.51 328.39,387.41 329.50,386.19 330.62,404.48 331.74,388.44 332.85,395.75 333.97,384.20 335.09,396.42 336.21,389.67 337.32,406.47 338.44,390.27 339.56,407.23 340.68,414.64 341.79,396.34 342.91,399.36 344.03,411.14 345.15,398.33 346.26,410.55 347.38,408.92 348.50,408.56 349.61,400.42 350.73,399.29 351.85,397.86 352.97,396.34 354.08,408.56 355.20,404.25 356.32,405.04 357.44,394.25 358.55,404.48 359.67,400.01 360.79,402.49 361.91,392.26 363.02,392.87 364.14,400.99 365.26,400.50 366.37,384.20 367.49,386.44 368.61,382.20 369.73,400.50 370.84,390.34 371.96,380.11 373.08,374.65 374.20,370.06 375.31,382.28 376.43,371.01 377.55,370.06 378.67,380.29 379.78,371.30 380.90,371.97"/>
<polyline fill="none" stroke="#36b363" stroke-width="1.3" stroke-linejoin="round" points="45.70,347.73 46.82,332.88 47.93,334.25 49.05,328.36 50.17,325.17 51.29,339.67 52.40,337.87 53.52,333.10 54.64,329.97 55.76,321.20 56.87,325.08 57.99,314.99 59.11,304.68 60.23,310.63 61.34,313.07 62.46,315.72 63.58,317.23 64.69,319.24 65.81,333.31 66.93,320.29 68.05,313.21 69.16,315.31 70.28,314.43 71.40,304.58 72.52,315.86 73.63,320.40 74.75,319.12 75.87,312.39 76.99,313.19 78.10,296.12 79.22,307.43 80.34,311.70 81.45,301.80 82.57,300.65 83.69,306.13 84.81,309.66 85.92,300.65 87.04,301.25 88.16,303.61 89.28,302.56 90.39,317.44 91.51,318.71 92.63,317.31 93.75,321.62 94.86,325.12 95.98,316.65 97.10,319.17 98.21,322.65 99.33,319.46 100.45,320.84 101.57,330.09 102.68,335.25 103.80,322.91 104.92,324.46 106.04,325.16 107.15,327.35 108.27,328.12 109.39,323.77 110.51,324.44 111.62,326.93 112.74,334.89 113.86,332.25 114.97,334.21 116.09,329.32 117.21,325.29 118.33,335.87 119.44,338.99 120.56,338.41 121.68,352.09 122.80,339.96 123.91,344.51 125.03,348.77 126.15,352.22 127.27,359.70 128.38,354.14 129.50,349.83 130.62,355.30 131.73,348.39 132.85,353.61 133.97,356.82 135.09,352.15 136.20,362.38 137.32,359.67 138.44,350.75 139.56,359.55 140.67,355.32 141.79,350.42 142.91,352.56 144.03,359.98 145.14,357.14 146.26,363.50 147.38,370.58 148.49,362.45 149.61,363.18 150.73,371.19 151.85,369.62 152.96,388.52 154.08,380.61 155.20,370.37 156.32,375.91 157.43,378.36 158.55,371.37 159.67,375.87 160.79,381.07 161.90,379.39 163.02,382.23 164.14,382.63 165.25,383.35 166.37,380.27 167.49,383.00 168.61,384.66 169.72,380.68 170.84,371.93 171.96,379.48 173.08,378.89 174.19,387.46 175.31,382.05 176.43,381.23 177.55,391.18 178.66,384.23 179.78,385.92 180.90,385.37 182.01,388.17 183.13,386.75 184.25,382.14 185.37,382.48 186.48,384.39 187.60,378.29 188.72,380.50 189.84,375.74 190.95,376.24 192.07,377.80 193.19,378.68 194.31,371.81 195.42,373.47 196.54,371.31 197.66,373.15 198.77,370.43 199.89,371.60 201.01,376.24 202.13,367.43 203.24,366.71 204.36,370.62 205.48,362.32 206.60,353.92 207.71,358.28 208.83,363.48 209.95,364.33 211.07,361.02 212.18,358.43 213.30,350.54 214.42,343.68 215.53,348.25 216.65,353.76 217.77,339.92 218.89,338.90 220.00,346.37 221.12,354.21 222.24,327.79 223.36,342.83 224.47,340.35 225.59,329.90 226.71,326.88 227.83,323.24 228.94,334.93 230.06,320.28 231.18,321.89 232.29,330.64 233.41,325.45 234.53,326.76 235.65,326.95 236.76,322.09 237.88,320.33 239.00,321.47 240.12,319.20 241.23,309.95 242.35,318.55 243.47,326.24 244.59,320.70 245.70,309.59 246.82,316.21 247.94,322.56 249.05,308.78 250.17,317.89 251.29,314.77 252.41,318.54 253.52,314.44 254.64,306.15 255.76,314.33 256.88,310.90 257.99,310.34 259.11,316.38 260.23,308.89 261.35,309.02 262.46,313.72 263.58,312.87 264.70,310.33 265.81,311.71 266.93,316.51 268.05,315.09 269.17,319.12 270.28,321.17 271.40,319.00 272.52,316.57 273.64,322.24 274.75,318.94 275.87,315.89 276.99,318.44 278.11,321.65 279.22,328.85 280.34,326.05 281.46,328.84 282.57,325.68 283.69,332.33 284.81,327.65 285.93,335.35 287.04,333.83 288.16,330.59 289.28,330.44 290.40,341.89 291.51,332.65 292.63,336.51 293.75,337.89 294.87,338.57 295.98,331.91 297.10,338.95 298.22,354.32 299.33,351.78 300.45,347.98 301.57,360.78 302.69,352.73 303.80,356.77 304.92,362.10 306.04,378.27 307.16,376.80 308.27,369.65 309.39,373.03 310.51,378.91 311.63,378.10 312.74,388.45 313.86,380.45 314.98,388.01 316.09,385.08 317.21,388.34 318.33,383.80 319.45,383.82 320.56,387.83 321.68,379.26 322.80,391.69 323.92,392.79 325.03,390.50 326.15,391.92 327.27,390.29 328.39,390.16 329.50,390.16 330.62,392.27 331.74,395.00 332.85,393.42 333.97,390.24 335.09,389.36 336.21,390.32 337.32,392.85 338.44,395.97 339.56,397.95 340.68,411.77 341.79,406.11 342.91,397.60 344.03,408.46 345.15,407.02 346.26,399.11 347.38,408.58 348.50,411.34 349.61,410.56 350.73,404.25 351.85,393.96 352.97,398.39 354.08,400.17 355.20,402.85 356.32,405.22 357.44,399.47 358.55,400.68 359.67,402.96 360.79,398.56 361.91,400.13 363.02,396.70 364.14,399.01 365.26,396.49 366.37,394.34 367.49,383.21 368.61,390.26 369.73,393.86 370.84,400.20 371.96,388.71 373.08,380.08 374.20,374.31 375.31,380.04 376.43,377.74 377.55,367.86 378.67,376.40 379.78,375.30 380.90,370.44"/>
<polyline fill="none" stroke="#404040" stroke-width="1.3" points="45.70,277.40 45.70,437.20 380.90,437.20"/>
<line x1="45.70" y1="410.57" x2="49.20" y2="410.57" stroke="#404040" stroke-width="1.2"/>
<line x1="45.70" y1="383.93" x2="49.20" y2="383.93" stroke="#404040" stroke-width="1.2"/>
<line x1="45.70" y1="357.30" x2="49.20" y2="357.30" stroke="#404040" stroke-width="1.2"/>
<line x1="45.70" y1="330.67" x2="49.20" y2="330.67" stroke="#404040" stroke-width="1.2"/>
<line x1="45.70" y1="304.03" x2="49.20" y2="304.03" stroke="#404040" stroke-width="1.2"/>
<line x1="45.70" y1="277.40" x2="49.20" y2="277.40" stroke="#404040" stroke-width="1.2"/>
<text transform="translate(57.20,441.00) rotate(-45)" text-anchor="end">8:00</text>
<text transform="translate(74.65,444.00) rotate(-45)" text-anchor="end">8:30</text>
<text transform="translate(95.60,444.00) rotate(-45)" text-anchor="end">9:00</text>
<text transform="translate(116.55,444.00) rotate(-45)" text-anchor="end">9:30</text>
<text transform="translate(137.50,444.00) rotate(-45)" text-anchor="end">10:00</text>
<text transform="translate(158.45,444.00) rotate(-45)" text-anchor="end">10:30</text>
<text transform="translate(179.40,444.00) rotate(-45)" text-anchor="end">11:00</text>
<text transform="translate(200.35,444.00) rotate(-45)" text-anchor="end">11:30</text>
<text transform="translate(221.30,444.00) rotate(-45)" text-anchor="end">12:00</text>
<text transform="translate(242.25,444.00) rotate(-45)" text-anchor="end">12:30</text>
<text transform="translate(263.20,444.00) rotate(-45)" text-anchor="end">13:00</text>
<text transform="translate(284.15,444.00) rotate(-45)" text-anchor="end">13:30</text>
<text transform="translate(305.10,444.00) rotate(-45)" text-anchor="end">14:00</text>
<text transform="translate(326.05,444.00) rotate(-45)" text-anchor="end">14:30</text>
<text transform="translate(347.00,444.00) rotate(-45)" text-anchor="end">15:00</text>
<text transform="translate(367.95,444.00) rotate(-45)" text-anchor="end">15:30</text>
<text transform="translate(388.90,444.00) rotate(-45)" text-anchor="end">16:00</text>
<rect x="295.60" y="278.60" width="83.90" height="33.30" fill="none" stroke="#595959" stroke-width="1"/>
<line x1="299.50" y1="286.93" x2="318.70" y2="286.93" stroke="#ed7d31" stroke-width="1" stroke-opacity="0.6"/>
<line x1="299.50" y1="303.41" x2="318.70" y2="303.41" stroke="#36b363" stroke-width="1.4" stroke-opacity="0.75"/>
<text x="320.60" y="290.43">Original Data</text>
<text x="320.60" y="306.91">LSTM</text>
<text transform="translate(16.70,357.00) rotate(-90)" text-anchor="middle">Temperature/°C</text>
<text x="217.10" y="478.30" text-anchor="middle">Time</text>
<line x1="449.70" y1="409.22" x2="787.90" y2="409.22" stroke="#d9d9d9" stroke-width="1"/>
<line x1="449.70" y1="382.13" x2="787.90" y2="382.13" stroke="#d9d9d9" stroke-width="1"/>
<line x1="449.70" y1="355.05" x2="787.90" y2="355.05" stroke="#d9d9d9" stroke-width="1"/>
<line x1="449.70" y1="327.97" x2="787.90" y2="327.97" stroke="#d9d9d9" stroke-width="1"/>
<line x1="449.70" y1="300.88" x2="787.90" y2="300.88" stroke="#d9d9d9" stroke-width="1"/>
<line x1="449.70" y1="273.80" x2="787.90" y2="273.80" stroke="#d9d9d9" stroke-width="1"/>
<text x="437.60" y="439.70" text-anchor="end">365</text>
<text x="437.60" y="412.62" text-anchor="end">370</text>
<text x="437.60" y="385.53" text-anchor="end">375</text>
<text x="437.60" y="358.45" text-anchor="end">380</text>
<text x="437.60" y="331.37" text-anchor="end">385</text>
<text x="437.60" y="304.28" text-anchor="end">390</text>
<text x="437.60" y="277.20" text-anchor="end">395</text>
<polyline fill="none" stroke="#ed7d31" stroke-width="1.2" stroke-linejoin="round" points="446.20,346.33 447.34,327.83 448.48,338.23 449.62,315.48 450.76,325.70 451.89,356.45 453.03,323.53 454.17,336.21 455.31,309.30 456.45,310.64 457.59,325.88 458.73,296.95 459.87,303.42 461.01,321.96 462.15,303.12 463.28,327.90 464.42,308.61 465.56,324.05 466.70,334.18 467.84,307.28 468.98,304.30 470.12,317.68 471.26,302.11 472.40,317.51 473.54,319.71 474.68,321.73 475.81,305.15 476.95,315.19 478.09,296.81 479.23,286.52 480.37,311.50 481.51,310.88 482.65,293.88 483.79,292.80 484.93,313.53 486.06,305.58 487.20,295.41 488.34,294.92 489.48,309.37 490.62,305.33 491.76,321.73 492.90,311.32 494.04,322.75 495.18,314.14 496.32,323.75 497.45,313.45 498.59,324.72 499.73,325.08 500.87,314.46 502.01,325.88 503.15,327.07 504.29,327.90 505.43,315.48 506.57,318.27 507.71,327.13 508.84,327.90 509.98,317.50 511.12,321.09 512.26,334.18 513.40,321.65 514.54,336.49 515.68,324.26 516.82,340.25 517.96,317.50 519.10,327.83 520.24,342.31 521.37,334.00 522.51,348.35 523.65,349.84 524.79,331.88 525.93,354.43 527.07,337.25 528.21,361.62 529.35,364.55 530.49,329.85 531.62,345.41 532.76,364.65 533.90,338.16 535.04,366.58 536.18,346.36 537.32,350.30 538.46,369.11 539.60,350.97 540.74,348.58 541.88,367.19 543.01,344.20 544.15,341.19 545.29,360.00 546.43,354.43 547.57,355.77 548.71,374.37 549.85,370.66 550.99,355.77 552.13,368.30 553.27,363.29 554.40,382.88 555.54,392.90 556.68,368.12 557.82,364.97 558.96,378.76 560.10,378.53 561.24,359.92 562.38,381.10 563.52,386.83 564.66,370.25 565.79,386.55 566.93,376.32 568.07,386.83 569.21,372.79 570.35,384.46 571.49,384.80 572.63,370.25 573.77,375.17 574.91,376.32 576.05,386.83 577.18,390.35 578.32,378.45 579.46,393.92 580.60,384.70 581.74,378.46 582.88,382.68 584.02,378.45 585.16,392.90 586.30,380.48 587.44,384.34 588.58,381.50 589.71,378.53 590.85,372.28 591.99,373.27 593.13,376.50 594.27,370.25 595.41,374.97 596.55,375.34 597.69,366.10 598.83,376.50 599.96,365.09 601.10,373.37 602.24,364.07 603.38,372.35 604.52,369.25 605.66,357.90 606.80,368.30 607.94,365.20 609.08,357.96 610.22,353.75 611.36,364.15 612.49,360.06 613.63,358.16 614.77,357.97 615.91,347.57 617.05,344.24 618.19,339.37 619.33,349.77 620.47,347.34 621.61,333.09 622.75,335.12 623.88,362.53 625.02,342.28 626.16,315.37 627.30,353.42 628.44,321.96 629.58,332.86 630.72,294.11 631.86,332.86 633.00,329.12 634.13,316.29 635.27,326.86 636.41,323.33 637.55,309.10 638.69,327.70 639.83,324.21 640.97,308.23 642.11,327.70 643.25,305.05 644.39,313.73 645.52,309.10 646.66,325.68 647.80,323.94 648.94,310.22 650.08,305.05 651.22,323.65 652.36,310.63 653.50,307.11 654.64,319.50 655.78,307.07 656.91,317.47 658.05,300.90 659.19,304.50 660.33,311.35 661.47,305.05 662.61,313.32 663.75,312.39 664.89,307.20 666.03,307.07 667.17,313.32 668.30,314.02 669.44,309.10 670.58,315.45 671.72,311.59 672.86,317.90 674.00,319.50 675.14,311.22 676.28,318.40 677.42,321.63 678.56,313.25 679.69,321.69 680.83,313.45 681.97,313.25 683.11,325.68 684.25,326.68 685.39,326.54 686.53,319.42 687.67,327.70 688.81,328.74 689.95,323.58 691.09,333.88 692.22,323.27 693.36,338.54 694.50,321.45 695.64,340.05 696.78,331.66 697.92,330.67 699.06,348.35 700.20,331.78 701.34,321.45 702.47,348.35 703.61,351.89 704.75,358.48 705.89,348.28 707.03,363.18 708.17,344.13 709.31,368.91 710.45,361.85 711.59,392.80 712.73,364.94 713.87,368.35 715.00,384.50 716.14,363.87 717.28,386.73 718.42,389.05 719.56,374.20 720.70,390.68 721.84,374.43 722.98,390.68 724.12,372.07 725.25,395.46 726.39,376.67 727.53,378.25 728.67,403.03 729.81,382.92 730.95,395.07 732.09,380.37 733.23,396.95 734.37,385.67 735.51,384.42 736.64,403.03 737.78,386.72 738.92,394.15 740.06,382.40 741.20,394.83 742.34,387.97 743.48,405.05 744.62,388.58 745.76,405.83 746.90,413.35 748.03,394.75 749.17,397.82 750.31,409.80 751.45,396.78 752.59,409.20 753.73,407.55 754.87,407.18 756.01,398.90 757.15,397.75 758.29,396.29 759.42,394.75 760.56,407.18 761.70,402.79 762.84,403.60 763.98,392.63 765.12,403.03 766.26,398.48 767.40,401.00 768.54,390.60 769.68,391.22 770.81,399.48 771.95,398.98 773.09,382.40 774.23,384.68 775.37,380.37 776.51,398.98 777.65,388.65 778.79,378.25 779.93,372.70 781.07,368.02 782.20,380.45 783.34,369.00 784.48,368.02 785.62,378.42 786.76,369.29 787.90,369.97"/>
<polyline fill="none" stroke="#4472c4" stroke-width="1.2" stroke-linejoin="round" points="446.20,343.90 447.34,336.93 448.48,331.60 449.62,327.69 450.76,327.50 451.89,334.41 453.03,333.22 454.17,330.82 455.31,328.08 456.45,318.69 457.59,315.49 458.73,309.58 459.87,308.94 461.01,312.45 462.15,311.00 463.28,314.53 464.42,317.27 465.56,317.81 466.70,326.02 467.84,317.34 468.98,316.34 470.12,313.98 471.26,311.35 472.40,309.99 473.54,315.51 474.68,314.70 475.81,316.22 476.95,313.49 478.09,306.15 479.23,299.59 480.37,302.79 481.51,302.10 482.65,300.57 483.79,298.97 484.93,302.37 486.06,300.12 487.20,300.22 488.34,301.69 489.48,303.22 490.62,304.53 491.76,308.41 492.90,314.39 494.04,315.05 495.18,318.94 496.32,318.20 497.45,319.76 498.59,322.38 499.73,322.99 500.87,320.33 502.01,322.34 503.15,323.20 504.29,322.85 505.43,322.10 506.57,321.36 507.71,326.14 508.84,322.92 509.98,323.68 511.12,323.09 512.26,325.74 513.40,326.93 514.54,328.73 515.68,331.35 516.82,331.98 517.96,331.34 519.10,326.54 520.24,332.49 521.37,335.47 522.51,340.98 523.65,344.02 524.79,338.40 525.93,343.46 527.07,346.46 528.21,350.48 529.35,356.68 530.49,347.48 531.62,347.02 532.76,349.19 533.90,348.95 535.04,353.20 536.18,355.73 537.32,352.22 538.46,358.14 539.60,356.55 540.74,352.86 541.88,357.99 543.01,352.73 544.15,352.79 545.29,350.35 546.43,352.90 547.57,356.44 548.71,363.09 549.85,366.21 550.99,365.31 552.13,364.97 553.27,368.43 554.40,372.00 555.54,377.01 556.68,375.20 557.82,372.69 558.96,373.92 560.10,370.19 561.24,371.23 562.38,374.56 563.52,379.20 564.66,377.46 565.79,380.78 566.93,381.40 568.07,380.87 569.21,380.50 570.35,376.86 571.49,382.33 572.63,376.78 573.77,375.94 574.91,378.76 576.05,380.50 577.18,384.11 578.32,384.24 579.46,387.58 580.60,382.89 581.74,381.96 582.88,381.38 584.02,379.62 585.16,381.61 586.30,384.70 587.44,382.79 588.58,383.43 589.71,379.36 590.85,376.07 591.99,378.14 593.13,376.70 594.27,373.86 595.41,373.07 596.55,374.09 597.69,372.34 598.83,370.15 599.96,370.22 601.10,369.33 602.24,370.30 603.38,370.67 604.52,367.82 605.66,365.48 606.80,367.02 607.94,364.00 609.08,361.53 610.22,360.73 611.36,362.16 612.49,358.55 613.63,359.99 614.77,357.53 615.91,353.29 617.05,349.50 618.19,346.31 619.33,345.73 620.47,344.88 621.61,340.66 622.75,343.17 623.88,344.53 625.02,341.91 626.16,339.77 627.30,337.67 628.44,335.02 629.58,324.53 630.72,326.59 631.86,319.38 633.00,326.92 634.13,321.20 635.27,320.43 636.41,321.47 637.55,318.05 638.69,322.27 639.83,322.33 640.97,318.65 642.11,318.22 643.25,316.24 644.39,312.98 645.52,316.13 646.66,316.54 647.80,316.78 648.94,315.68 650.08,315.54 651.22,315.14 652.36,314.37 653.50,313.86 654.64,313.51 655.78,310.78 656.91,310.47 658.05,311.73 659.19,304.73 660.33,307.62 661.47,304.73 662.61,309.48 663.75,312.58 664.89,308.99 666.03,309.94 667.17,312.12 668.30,312.17 669.44,312.27 670.58,313.85 671.72,312.72 672.86,314.27 674.00,316.81 675.14,316.12 676.28,315.72 677.42,317.21 678.56,318.87 679.69,317.39 680.83,314.64 681.97,315.85 683.11,321.05 684.25,320.33 685.39,320.15 686.53,324.39 687.67,328.29 688.81,328.02 689.95,323.86 691.09,328.07 692.22,328.19 693.36,328.21 694.50,330.63 695.64,328.58 696.78,333.07 697.92,332.44 699.06,336.86 700.20,334.48 701.34,329.96 702.47,340.12 703.61,345.73 704.75,346.58 705.89,355.32 707.03,353.69 708.17,356.92 709.31,355.59 710.45,365.43 711.59,368.39 712.73,374.31 713.87,372.33 715.00,378.50 716.14,372.39 717.28,376.84 718.42,381.86 719.56,380.79 720.70,383.45 721.84,383.38 722.98,378.48 724.12,384.36 725.25,383.04 726.39,382.60 727.53,382.37 728.67,388.99 729.81,386.29 730.95,385.99 732.09,390.89 733.23,385.81 734.37,391.13 735.51,386.36 736.64,394.20 737.78,391.24 738.92,390.47 740.06,391.55 741.20,388.14 742.34,393.53 743.48,394.04 744.62,397.87 745.76,397.03 746.90,404.53 748.03,400.62 749.17,402.33 750.31,401.46 751.45,403.33 752.59,404.97 753.73,407.50 754.87,404.60 756.01,404.92 757.15,400.07 758.29,397.71 759.42,396.43 760.56,399.22 761.70,399.98 762.84,401.52 763.98,401.45 765.12,400.39 766.26,400.87 767.40,399.70 768.54,396.07 769.68,394.50 770.81,398.77 771.95,394.58 773.09,392.21 774.23,389.01 775.37,387.49 776.51,385.99 777.65,388.15 778.79,386.56 779.93,379.48 781.07,376.78 782.20,371.61 783.34,373.14 784.48,371.60 785.62,373.38 786.76,372.82 787.90,371.22"/>
<polyline fill="none" stroke="#404040" stroke-width="1.3" points="446.20,273.80 446.20,436.30 787.90,436.30"/>
<line x1="446.20" y1="409.22" x2="449.70" y2="409.22" stroke="#404040" stroke-width="1.2"/>
<line x1="446.20" y1="382.13" x2="449.70" y2="382.13" stroke="#404040" stroke-width="1.2"/>
<line x1="446.20" y1="355.05" x2="449.70" y2="355.05" stroke="#404040" stroke-width="1.2"/>
<line x1="446.20" y1="327.97" x2="449.70" y2="327.97" stroke="#404040" stroke-width="1.2"/>
<line x1="446.20" y1="300.88" x2="449.70" y2="300.88" stroke="#404040" stroke-width="1.2"/>
<line x1="446.20" y1="273.80" x2="449.70" y2="273.80" stroke="#404040" stroke-width="1.2"/>
<text transform="translate(457.70,440.10) rotate(-45)" text-anchor="end">8:00</text>
<text transform="translate(475.56,443.10) rotate(-45)" text-anchor="end">8:30</text>
<text transform="translate(496.91,443.10) rotate(-45)" text-anchor="end">9:00</text>
<text transform="translate(518.27,443.10) rotate(-45)" text-anchor="end">9:30</text>
<text transform="translate(539.62,443.10) rotate(-45)" text-anchor="end">10:00</text>
<text transform="translate(560.98,443.10) rotate(-45)" text-anchor="end">10:30</text>
<text transform="translate(582.34,443.10) rotate(-45)" text-anchor="end">11:00</text>
<text transform="translate(603.69,443.10) rotate(-45)" text-anchor="end">11:30</text>
<text transform="translate(625.05,443.10) rotate(-45)" text-anchor="end">12:00</text>
<text transform="translate(646.41,443.10) rotate(-45)" text-anchor="end">12:30</text>
<text transform="translate(667.76,443.10) rotate(-45)" text-anchor="end">13:00</text>
<text transform="translate(689.12,443.10) rotate(-45)" text-anchor="end">13:30</text>
<text transform="translate(710.47,443.10) rotate(-45)" text-anchor="end">14:00</text>
<text transform="translate(731.83,443.10) rotate(-45)" text-anchor="end">14:30</text>
<text transform="translate(753.19,443.10) rotate(-45)" text-anchor="end">15:00</text>
<text transform="translate(774.54,443.10) rotate(-45)" text-anchor="end">15:30</text>
<text transform="translate(795.90,443.10) rotate(-45)" text-anchor="end">16:00</text>
<rect x="690.30" y="274.90" width="96.40" height="34.30" fill="none" stroke="#595959" stroke-width="1"/>
<line x1="694.20" y1="283.47" x2="713.40" y2="283.47" stroke="#ed7d31" stroke-width="1" stroke-opacity="0.6"/>
<line x1="694.20" y1="300.45" x2="713.40" y2="300.45" stroke="#4472c4" stroke-width="1" stroke-opacity="0.6"/>
<text x="715.30" y="286.97">Original Data</text>
<text x="715.30" y="303.95">Proposed Model</text>
<text transform="translate(417.20,354.50) rotate(-90)" text-anchor="middle">Temperature/°C</text>
<text x="621.10" y="478.30" text-anchor="middle">Time</text>
</svg></body></html>
